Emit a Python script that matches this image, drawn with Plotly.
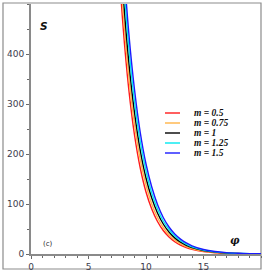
import plotly.graph_objects as go

phi = [7.5, 8, 8.5, 9, 9.5, 10, 10.5, 11, 11.5, 12, 12.5, 13, 13.5, 14, 15, 16, 17, 18, 19, 20]

S_m05 = [632, 457, 330, 238, 172, 124, 90, 65, 47, 34, 24.5, 17.7, 12.8, 9.3, 4.8, 2.5, 1.3, 0.7, 0.4, 0.2]
S_m075 = [674, 491, 357, 260, 189, 138, 100, 73, 53, 38.7, 28.2, 20.5, 14.9, 10.9, 5.8, 3.05, 1.6, 0.86, 0.45, 0.24]
S_m1 = [716, 525, 385, 283, 207, 152, 112, 82, 60, 44, 32.3, 23.7, 17.4, 12.7, 6.8, 3.7, 2.0, 1.07, 0.57, 0.31]
S_m125 = [762, 561, 414, 305, 225, 166, 122, 90, 66, 49, 36, 26.6, 19.6, 14.4, 7.8, 4.3, 2.3, 1.26, 0.68, 0.37]
S_m15 = [808, 599, 443, 329, 243, 180, 134, 99, 73, 54, 40, 29.8, 22.1, 16.4, 9.0, 4.9, 2.7, 1.5, 0.8, 0.44]

labels = ["m = 0.5", "m = 0.75", "m = 1", "m = 1.25", "m = 1.5"]
series = [S_m05, S_m075, S_m1, S_m125, S_m15]
colors = ["#ff1a1a", "#ffb347", "#000000", "#00e8f0", "#1a1aff"]

x_ticks = [0, 5, 10, 15]
y_ticks = [0, 100, 200, 300, 400]

fig = go.Figure()
for lab, s, c in zip(labels, series, colors):
    fig.add_trace(go.Scatter(x=phi, y=s, mode="lines", name=lab,
                             line=dict(color=c, width=1.4, shape="spline"),
                             showlegend=False))

tickfont = dict(family="DejaVu Sans", size=9, color="#3c3c4c")
fig.update_xaxes(range=[0, 20], tickvals=x_ticks, showgrid=False, zeroline=False,
                 showline=True, linecolor="#8a8a8a", linewidth=2, automargin=False,
                 ticks="outside", ticklen=3, tickcolor="#6a6a6a", tickwidth=1,
                 minor=dict(dtick=1, ticks="outside", ticklen=2, tickcolor="#6a6a6a"),
                 tickfont=tickfont)
fig.update_yaxes(range=[0, 500], tickvals=y_ticks, showgrid=False, zeroline=False,
                 showline=True, linecolor="#8a8a8a", linewidth=2, automargin=False,
                 ticks="outside", ticklen=3, tickcolor="#6a6a6a", tickwidth=1,
                 minor=dict(dtick=50, ticks="outside", ticklen=2, tickcolor="#6a6a6a"),
                 tickfont=tickfont)

W, H = 266, 273
L, R, T, B = 31, 5, 4, 19
pw, ph = W - L - R, H - T - B

def px(x):
    return (x - L) / pw

def py(y):
    return (H - B - y) / ph

# outer frame
fig.add_shape(type="rect", xref="paper", yref="paper",
              x0=px(3), x1=px(261), y0=py(269), y1=py(3),
              line=dict(color="#8c8c8c", width=1.2), layer="below")

# manual legend
rows = [113, 123, 133, 143, 153]
for lab, c, r in zip(labels, colors, rows):
    fig.add_shape(type="line", xref="paper", yref="paper",
                  x0=px(165), x1=px(180), y0=py(r), y1=py(r),
                  line=dict(color=c, width=1.4))
    fig.add_annotation(xref="paper", yref="paper", x=px(192), y=py(r),
                       xanchor="left", yanchor="middle", showarrow=False,
                       text="<b><i>" + lab + "</i></b>",
                       font=dict(family="Liberation Serif", size=9.5, color="#111111"))

fig.add_annotation(xref="paper", yref="paper", x=px(38), y=py(26),
                   xanchor="left", yanchor="middle", showarrow=False,
                   text="<b><i>S</i></b>",
                   font=dict(family="DejaVu Sans", size=10.5, color="#111111"))
fig.add_annotation(xref="paper", yref="paper", x=px(235), y=py(240),
                   xanchor="center", yanchor="middle", showarrow=False,
                   text="<b><i>φ</i></b>",
                   font=dict(family="DejaVu Serif", size=10.5, color="#111111"))
fig.add_annotation(xref="paper", yref="paper", x=px(41), y=py(244),
                   xanchor="left", yanchor="middle", showarrow=False,
                   text="(c)",
                   font=dict(family="DejaVu Sans", size=7, color="#222222"))

fig.update_layout(width=W, height=H, margin=dict(l=L, r=R, t=T, b=B),
                  paper_bgcolor="white", plot_bgcolor="white")

fig.write_html("out.html", config={"displayModeBar": False},
               post_script="document.body.style.margin='0';")
